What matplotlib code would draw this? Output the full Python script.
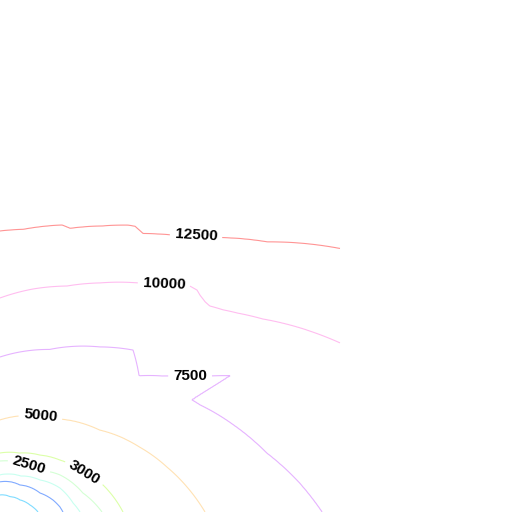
import numpy as np
import matplotlib
matplotlib.use("Agg")
import matplotlib.pyplot as plt

# Contour levels and line colours
levels = [1000, 1500, 2000, 2500, 3000, 5000, 7500, 10000, 12500]
colors = ['#7fdcff', '#80aaff', '#c8fff0', '#d4ffd4', '#dcffa8',
          '#ffe2b4', '#e6b3ff', '#ffbdf0', '#ff9494']

# Each contour as (angle in degrees, distance) from the lower-left corner
ang_1000 = [0, 13, 31, 56.8, 90]
rad_1000 = [38, 30.8, 23.3, 18.2, 17]
ang_1500 = [0, 4.8, 12.8, 25.4, 53.5, 90]
rad_1500 = [63, 60.2, 54.3, 44.3, 33.6, 30.3]
ang_2000 = [0, 7, 21.8, 38.7, 60, 90]
rad_2000 = [80, 73.6, 64.6, 51.2, 41.5, 37]
ang_2500 = [0, 12.9, 31.7, 45, 65, 90]
rad_2500 = [102, 85, 70.5, 58.5, 53.5, 51]
ang_3000 = [0, 14.7, 24.6, 40.9, 54.9, 72, 90]
rad_3000 = [123, 106.5, 93.5, 79.4, 69.6, 62, 59]
ang_5000 = [0, 7.6, 15, 24.9, 39.4, 58, 79, 90]
rad_5000 = [205, 188.7, 173, 154, 129, 109.6, 97.7, 92]
ang_7500 = [0, 5.5, 12.5, 20.5, 28.1, 30.4, 30.6, 33, 36.2, 40, 44.4, 50.6, 58.8, 73, 90]
rad_7500 = [322, 301, 273, 249, 227, 222, 268, 249.7, 229, 211.6, 194.6, 209.6, 193, 170, 155]
ang_10000 = [0, 10, 20, 26.4, 36.3, 39.9, 42.2, 44.5, 45.7, 47.3, 48.4, 50.4, 54.4,
             58.9, 66.4, 73.5, 81.6, 90]
rad_10000 = [560, 490, 420, 380, 326, 310, 301, 294, 293.7, 295, 296.8, 294.7, 280,
             267.6, 250, 235.7, 225.4, 214]
ang_12500 = [0, 20, 30, 37.8, 45.3, 51, 58.5, 62.8, 64.7, 66, 70.2, 76.1, 77.8, 85.3, 90]
rad_12500 = [720, 580, 490, 430, 380, 353, 325, 313, 316, 314, 304, 292.2, 293.6, 283.6, 281]

contours = [(ang_1000, rad_1000), (ang_1500, rad_1500), (ang_2000, rad_2000),
            (ang_2500, rad_2500), (ang_3000, rad_3000), (ang_5000, rad_5000),
            (ang_7500, rad_7500), (ang_10000, rad_10000), (ang_12500, rad_12500)]

# ---- build the field from the read contours ----
xg = np.arange(0, 341, 1.0)
yg = np.arange(0, 513, 1.0)
X, Y = np.meshgrid(xg, yg)
R = np.hypot(X, Y)
T = np.degrees(np.arctan2(Y, X))

Lk = [0.0] + [float(v) for v in levels] + [15000.0]
Rk = [np.zeros_like(R)]
for a, r in contours:
    Rk.append(np.interp(T, a, r))
Rk.append(Rk[-1] * 1.3)

Z = np.full(R.shape, Lk[-1])
for k in range(len(Lk) - 1):
    lo, hi = Rk[k], Rk[k + 1]
    m = (R >= lo) & (R < hi)
    Z[m] = Lk[k] + (R[m] - lo[m]) / (hi[m] - lo[m]) * (Lk[k + 1] - Lk[k])

plt.rcParams['font.family'] = ['Liberation Sans', 'DejaVu Sans']
plt.rcParams['font.weight'] = 'bold'

fig = plt.figure(figsize=(5.12, 5.12), dpi=100)
ax = fig.add_axes([0, 0, 1, 1])
ax.set_xlim(0, 512)
ax.set_ylim(0, 512)
ax.axis('off')

cs = ax.contour(X, Y, Z, levels=levels, colors=colors, linewidths=0.8)
positions = [(196, 275), (164, 227), (190, 137), (40, 92), (84, 39), (30, 49)]
labels = ax.clabel(cs, manual=positions, inline=True, fontsize=11, colors='k', fmt='%d')
for t in labels:
    t.set_fontweight('bold')

fig.savefig('out.png', dpi=100)
